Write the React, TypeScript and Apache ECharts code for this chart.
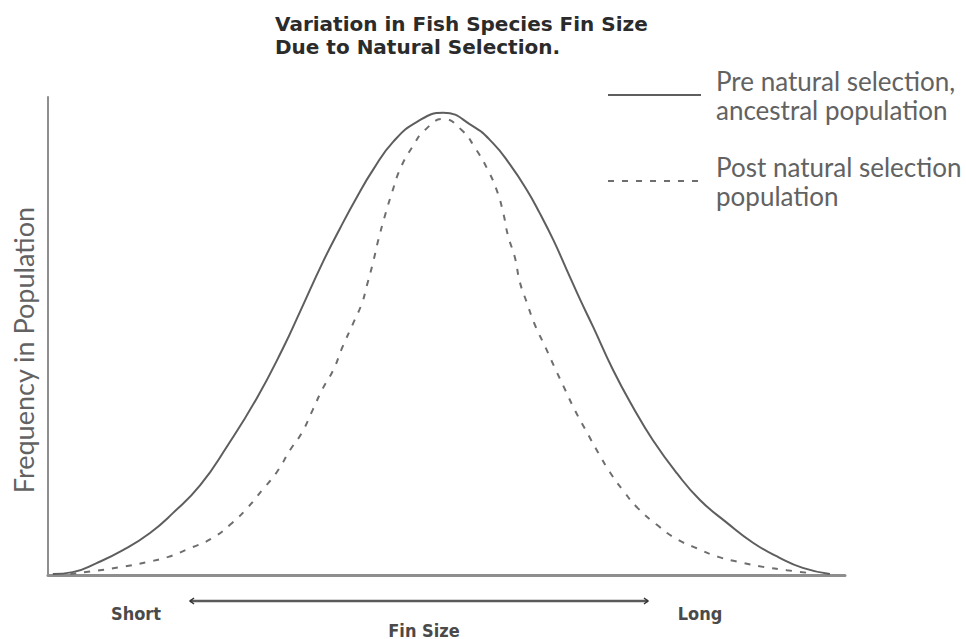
import React, { useEffect, useRef } from "react";
import * as echarts from "echarts";

// Fin size (0 = short, 100 = long) and relative frequency (0..100)
const preX = [0.6, 3.1, 6.1, 9.4, 12.8, 15.7, 19.1, 22.5, 26.2, 29.5, 31.6, 34.5, 36.6, 38.8, 40.8, 43.3, 46.3, 49.6, 53.3, 55.8, 58.0, 60.1, 61.7, 63.4, 65.1, 66.8, 68.4, 70.9, 73.4, 75.9, 78.9, 81.8, 85.2, 88.5, 91.8, 94.7, 98.1];
const preY = [0.2, 0.6, 2.5, 5.2, 8.8, 13.0, 18.8, 27.0, 37.0, 47.5, 55.0, 65.5, 72.4, 79.2, 84.8, 90.6, 94.8, 96.7, 93.9, 90.4, 85.8, 80.5, 75.7, 70.1, 63.8, 57.5, 51.9, 42.9, 35.1, 28.2, 21.3, 15.7, 10.9, 6.7, 3.6, 1.5, 0.2];

const postX = [2.8, 6.5, 9.3, 12.4, 15.1, 17.8, 20.6, 23.1, 25.1, 26.9, 28.7, 30.4, 31.9, 33.2, 34.5, 35.8, 36.9, 38.3, 39.4, 40.0, 40.8, 41.4, 42.3, 43.2, 44.2, 45.7, 47.3, 49.6, 51.9, 53.6, 55.2, 56.3, 57.1, 57.7, 58.6, 59.2, 60.1, 61.1, 62.4, 63.6, 64.9, 66.1, 67.6, 69.0, 70.5, 72.1, 74.0, 76.4, 78.7, 81.4, 84.1, 86.8, 89.7, 92.7, 95.6];
const postY = [0.2, 1.0, 1.7, 2.7, 3.8, 5.6, 7.7, 10.9, 14.2, 17.8, 21.5, 26.2, 29.9, 34.5, 39.1, 42.9, 47.5, 52.7, 56.9, 60.5, 65.5, 69.8, 75.3, 80.2, 85.0, 89.5, 93.1, 95.4, 93.1, 89.3, 84.7, 80.5, 75.9, 71.1, 66.3, 61.3, 56.9, 52.3, 47.7, 43.3, 38.7, 34.5, 29.9, 25.7, 21.5, 17.8, 14.0, 10.5, 7.7, 5.6, 3.8, 2.7, 1.7, 1.0, 0.4];

const titleText = "Variation in Fish Species Fin Size\nDue to Natural Selection.";
const seriesNames = ["Pre natural selection,\nancestral population", "Post natural selection\npopulation"];
const yAxisName = "Frequency in Population";
const xAxisName = "Fin Size";
const shortLabel = "Short";
const longLabel = "Long";

export default function App() {
  const ref = useRef<HTMLDivElement>(null);
  useEffect(() => {
    if (!ref.current) return;
    const chart = echarts.init(ref.current, null, { renderer: "svg" });
    const labelFont = { fontFamily: "DejaVu Sans Condensed, DejaVu Sans", fontWeight: "bold", fontSize: 18, fill: "#4a4a4a" };
    chart.setOption({
      animation: false,
      backgroundColor: "#ffffff",
      title: {
        text: titleText,
        left: 275,
        top: 12,
        padding: 0,
        textStyle: { fontFamily: "DejaVu Sans", fontWeight: "bold", fontSize: 20, lineHeight: 23, color: "#2b2b2b" },
      },
      legend: {
        orient: "vertical",
        left: 607,
        top: 63,
        padding: 0,
        itemWidth: 93,
        itemHeight: 14,
        itemGap: 22,
        selectedMode: false,
        itemStyle: { opacity: 0, borderWidth: 0 },
        textStyle: { fontFamily: "Lato", fontSize: 26, lineHeight: 29, color: "#626262", padding: [6, 0, 0, 10] },
        data: seriesNames,
      },
      grid: { left: 48, right: 121, top: 97, bottom: 64 },
      xAxis: {
        type: "value",
        min: 0,
        max: 100,
        axisLine: { show: true, lineStyle: { color: "#8e8e8e", width: 3 } },
        axisTick: { show: false },
        axisLabel: { show: false },
        splitLine: { show: false },
      },
      yAxis: {
        type: "value",
        min: 0,
        max: 100,
        name: yAxisName,
        nameLocation: "middle",
        nameRotate: 90,
        nameGap: 11,
        nameTextStyle: { fontFamily: "Lato", fontSize: 27, color: "#626262", padding: [0, 28, 0, 0] },
        axisLine: { show: true, lineStyle: { color: "#8e8e8e", width: 2 } },
        axisTick: { show: false },
        axisLabel: { show: false },
        splitLine: { show: false },
      },
      series: [
        {
          name: seriesNames[0],
          type: "line",
          showSymbol: false,
          symbol: "none",
          smooth: 0.5,
          lineStyle: { color: "#5e5e5e", width: 2, type: "solid" },
          itemStyle: { color: "#5e5e5e" },
          data: preX.map((x, i) => [x, preY[i]]),
        },
        {
          name: seriesNames[1],
          type: "line",
          showSymbol: false,
          symbol: "none",
          smooth: 0.5,
          lineStyle: { color: "#6e6e6e", width: 2, type: [6, 8] },
          itemStyle: { color: "#6e6e6e" },
          data: postX.map((x, i) => [x, postY[i]]),
        },
      ],
      graphic: [
        { type: "line", shape: { x1: 190, y1: 601, x2: 648, y2: 601 }, style: { stroke: "#5a5a5a", lineWidth: 2.5 } },
        { type: "polyline", shape: { points: [[194, 598], [190, 601], [194, 604]] }, style: { stroke: "#333", lineWidth: 1.5, fill: null } },
        { type: "polyline", shape: { points: [[644, 598], [648, 601], [644, 604]] }, style: { stroke: "#333", lineWidth: 1.5, fill: null } },
        { type: "text", x: 136, y: 613, style: { text: shortLabel, align: "center", verticalAlign: "middle", ...labelFont } },
        { type: "text", x: 700, y: 613, style: { text: longLabel, align: "center", verticalAlign: "middle", ...labelFont } },
        { type: "text", x: 424, y: 630, style: { text: xAxisName, align: "center", verticalAlign: "middle", ...labelFont } },
      ],
    });
    return () => chart.dispose();
  }, []);
  return <div ref={ref} style={{ width: 966, height: 639, position: "absolute", left: 0, top: 0 }} />;
}
